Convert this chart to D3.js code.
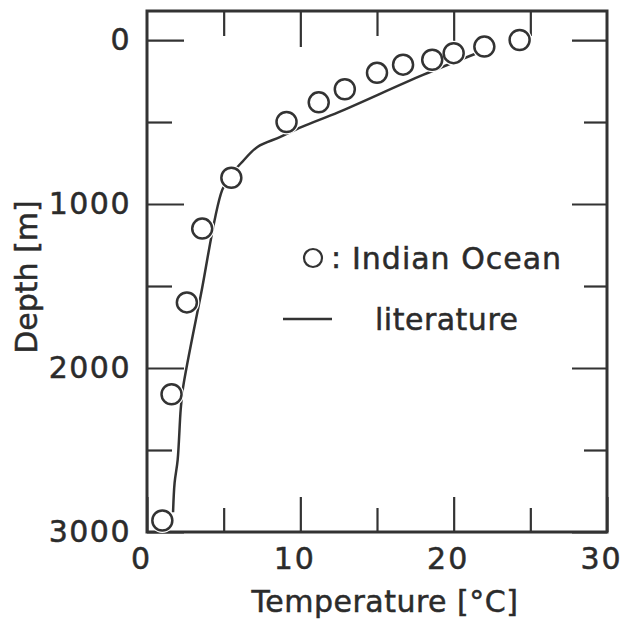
<!DOCTYPE html>
<html>
<head>
<meta charset="utf-8">
<script src="https://cdn.jsdelivr.net/npm/d3@7"></script>
<style>
  body { margin: 0; background: #fff; }
  text { font-family: "DejaVu Sans", sans-serif; fill: #2b2b2b; stroke: #2b2b2b; stroke-width: 0.5px; }
</style>
</head>
<body>
<svg class="chart"></svg>
<script>
// measured points (Indian Ocean)
var ocean_temp  = [24.3, 22.0, 20.0, 18.6, 16.7, 15.0, 12.9, 11.2, 9.1, 5.5, 3.6, 2.6, 1.6, 1.0];
var ocean_depth = [0, 40, 80, 120, 150, 200, 300, 380, 500, 840, 1150, 1600, 2160, 2930];

// literature profile
var lit_temp  = [1.7, 1.8, 2.0, 2.2, 2.35, 3.5, 4.9, 5.5, 6.2, 7.2, 8.7, 10.1, 12.5, 18.0, 21.8];
var lit_depth = [2880, 2700, 2560, 2250, 2120, 1560, 915, 820, 744, 652, 591, 530, 440, 213, 70];

var x_major = [0, 10, 20, 30];
var x_minor = [5, 15, 25];
var y_major = [0, 1000, 2000, 3000];
var y_minor = [500, 1500, 2500];

var width = 626, height = 621;
var box = {left: 147, top: 11, right: 607, bottom: 532};
var ink = "#333";

var x = d3.scaleLinear().domain([0, 30]).range([box.left, box.right]);
var y = d3.scaleLinear().domain([-177, 3000]).range([box.top, box.bottom]);

var svg = d3.select(".chart")
    .attr("width", width)
    .attr("height", height);

function tick_axis(axis, pos, values, size, labels) {
  var g = svg.append("g")
      .attr("transform", pos)
      .call(axis.tickValues(values).tickFormat(d3.format("d"))
        .tickSize(-size).tickSizeOuter(0).tickPadding(labels ? 14 : 0));
  g.select(".domain").remove();
  g.selectAll(".tick line").attr("stroke", ink).attr("stroke-width", 2.2);
  if (!labels) g.selectAll(".tick text").remove();
  return g;
}

// ticks on all four sides, pointing inwards
var bx = tick_axis(d3.axisBottom(x), "translate(0," + box.bottom + ")", x_major, 35, true);
tick_axis(d3.axisBottom(x), "translate(0," + box.bottom + ")", x_minor, 24, false);
tick_axis(d3.axisTop(x), "translate(0," + box.top + ")", x_major.slice(1, 3), 36, false);
tick_axis(d3.axisTop(x), "translate(0," + box.top + ")", x_minor, 25, false);

var ly = tick_axis(d3.axisLeft(y), "translate(" + box.left + ",0)", y_major, 37, true);
tick_axis(d3.axisLeft(y), "translate(" + box.left + ",0)", y_minor, 25, false);
tick_axis(d3.axisRight(y), "translate(" + box.right + ",0)", y_major, 35, false);
tick_axis(d3.axisRight(y), "translate(" + box.right + ",0)", y_minor, 23, false);

bx.selectAll(".tick text")
    .attr("font-size", 30)
    .attr("letter-spacing", 2)
    .attr("dx", -6)
    .attr("dy", "0.78em")
    .attr("font-family", "DejaVu Sans")
    .attr("fill", null);

ly.selectAll(".tick text")
    .attr("font-size", 30)
    .attr("letter-spacing", 1.5)
    .attr("x", -16)
    .attr("font-family", "DejaVu Sans")
    .attr("fill", null);

// frame
svg.append("rect")
    .attr("x", box.left)
    .attr("y", box.top)
    .attr("width", box.right - box.left)
    .attr("height", box.bottom - box.top)
    .attr("fill", "none")
    .attr("stroke", ink)
    .attr("stroke-width", 3);

// literature line
var line = d3.line()
    .x(function(d, i) { return x(lit_temp[i]); })
    .y(function(d, i) { return y(lit_depth[i]); })
    .curve(d3.curveCatmullRom.alpha(0.5));

svg.append("path")
    .attr("d", line(lit_temp))
    .attr("fill", "none")
    .attr("stroke", ink)
    .attr("stroke-width", 2.5);

// circles, white halo first so the line breaks around them
var pts = svg.append("g");
pts.selectAll("circle.halo")
    .data(ocean_temp)
  .enter().append("circle")
    .attr("class", "halo")
    .attr("cx", function(d) { return x(d); })
    .attr("cy", function(d, i) { return y(ocean_depth[i]); })
    .attr("r", 10)
    .attr("fill", "#fff")
    .attr("stroke", "#fff")
    .attr("stroke-width", 5);
pts.selectAll("circle.pt")
    .data(ocean_temp)
  .enter().append("circle")
    .attr("class", "pt")
    .attr("cx", function(d) { return x(d); })
    .attr("cy", function(d, i) { return y(ocean_depth[i]); })
    .attr("r", 10)
    .attr("fill", "#fff")
    .attr("stroke", ink)
    .attr("stroke-width", 2.5);

// legend
svg.append("circle")
    .attr("cx", 313).attr("cy", 258).attr("r", 9)
    .attr("fill", "#fff").attr("stroke", ink).attr("stroke-width", 2.2);
svg.append("text")
    .attr("x", 336).attr("y", 268)
    .attr("text-anchor", "middle")
    .attr("font-size", 30)
    .text(":");
svg.append("text")
    .attr("x", 352).attr("y", 269)
    .attr("font-size", 30)
    .attr("letter-spacing", 1)
    .text("Indian Ocean");
svg.append("line")
    .attr("x1", 283).attr("x2", 332)
    .attr("y1", 319).attr("y2", 319)
    .attr("stroke", ink).attr("stroke-width", 2.5);
svg.append("text")
    .attr("x", 375).attr("y", 330)
    .attr("font-size", 30)
    .attr("letter-spacing", 0.5)
    .text("literature");

// axis titles
svg.append("text")
    .attr("x", 385).attr("y", 612)
    .attr("text-anchor", "middle")
    .attr("font-size", 30)
    .attr("letter-spacing", 0.5)
    .text("Temperature [°C]");
svg.append("text")
    .attr("transform", "translate(37,277) rotate(-90)")
    .attr("text-anchor", "middle")
    .attr("font-size", 30)
    .text("Depth [m]");
</script>
</body>
</html>
